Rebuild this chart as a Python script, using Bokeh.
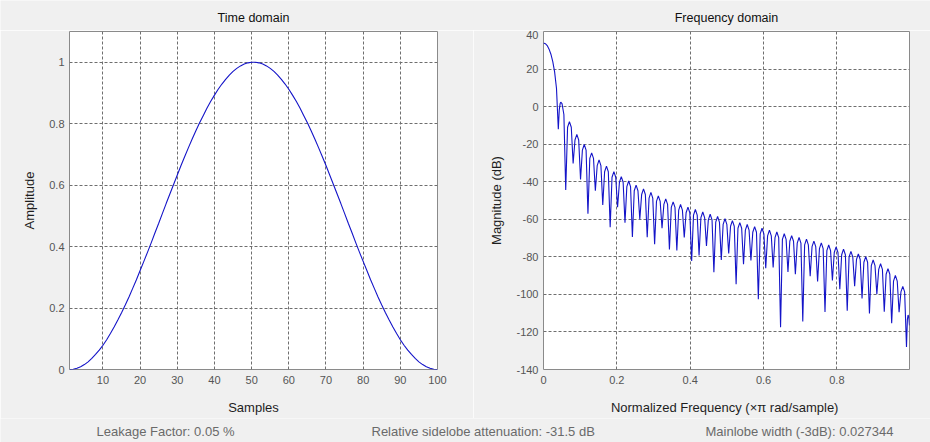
from bokeh.plotting import figure
from bokeh.layouts import column, row
from bokeh.models import Range1d, FixedTicker, CustomJSTickFormatter, Label
from bokeh.embed import file_html
from bokeh.resources import INLINE

# ---------------------------------------------------------------- data
# Time domain: 100-point Hann window
samples = list(range(1, 101))
amplitude = [
    0.000, 0.001, 0.004, 0.009, 0.016, 0.025, 0.036, 0.049, 0.063, 0.079,
    0.097, 0.117, 0.138, 0.161, 0.185, 0.210, 0.236, 0.264, 0.292, 0.322,
    0.352, 0.382, 0.413, 0.445, 0.476, 0.508, 0.540, 0.571, 0.602, 0.633,
    0.664, 0.693, 0.722, 0.750, 0.777, 0.803, 0.827, 0.851, 0.873, 0.893,
    0.912, 0.929, 0.944, 0.958, 0.970, 0.980, 0.988, 0.994, 0.998, 1.000,
    1.000, 0.998, 0.994, 0.988, 0.980, 0.970, 0.958, 0.944, 0.929, 0.912,
    0.893, 0.873, 0.851, 0.827, 0.803, 0.777, 0.750, 0.722, 0.693, 0.664,
    0.633, 0.602, 0.571, 0.540, 0.508, 0.476, 0.445, 0.413, 0.382, 0.352,
    0.322, 0.292, 0.264, 0.236, 0.210, 0.185, 0.161, 0.138, 0.117, 0.097,
    0.079, 0.063, 0.049, 0.036, 0.025, 0.016, 0.009, 0.004, 0.001, 0.000,
]

# Frequency domain: main lobe and first side lobe, point by point
head_freq = [0.0, 0.0051, 0.0101, 0.0152, 0.0202, 0.0253, 0.0303, 0.0354,
             0.0404, 0.0430, 0.0455, 0.0470, 0.0505, 0.0556]
head_db = [33.9, 33.5, 32.5, 30.6, 27.9, 24.0, 18.5, 9.8,
           -12.1, -1.7, 1.7, 2.4, 1.6, -4.2]

# Remaining side lobes (lobe 3 .. 48): dip at the start of each lobe, crest level
lobe_width = 0.0202
first_lobe = 3
null_db = [
    -44.4, -30.3, -38.8, -57.1, -44.8, -52.4, -64.3, -53.6, -61.9, -69.4,
    -59.9, -69.5, -73.3, -64.8, -76.1, -76.6, -69.7, -82.2, -79.3, -74.2,
    -88.2, -81.7, -78.2, -94.6, -84.0, -82.0, -102.6, -86.1, -85.7, -117.5,
    -88.1, -89.3, -114.4, -90.3, -93.1, -109.4, -92.6, -97.3, -108.7, -95.6,
    -102.2, -110.2, -99.9, -109.2, -115.4, -109.5, -128.0,
]
crest_db = [
    -8.0, -14.8, -20.2, -24.6, -28.4, -31.7, -34.6, -37.3, -39.6, -41.8,
    -43.8, -45.7, -47.5, -49.1, -50.7, -52.1, -53.5, -54.8, -56.1, -57.3,
    -58.5, -59.7, -60.7, -61.8, -62.8, -63.9, -64.8, -65.8, -66.8, -67.7,
    -68.7, -69.7, -70.6, -71.6, -72.6, -73.7, -74.7, -75.9, -77.1, -78.4,
    -79.9, -81.7, -83.7, -86.3, -89.9, -95.7,
]
# Half lobe running into the Nyquist edge
tail_freq = [0.9922, 0.9941, 0.9961, 0.9980]
tail_db = [-113.4, -111.0, -112.0, -116.5]

time_title = "Time domain"
freq_title = "Frequency domain"
leakage_text = "Leakage Factor: 0.05 %"
sidelobe_text = "Relative sidelobe attenuation: -31.5 dB"
mainlobe_text = "Mainlobe width (-3dB): 0.027344"

# ---------------------------------------------------------------- styling
FONT = "Liberation Sans"
BG = "#f0f0f0"
LINE = "#1414c8"
TICK_COLOR = "#555555"
LABEL_COLOR = "#1e1e1e"

# shape of a lobe crest: (fraction of lobe width, dB below crest)
CREST_SHAPE = [(0.25, -3.0), (0.5, 0.0), (0.75, -3.0)]

freq = list(head_freq)
mag = list(head_db)
for i, crest in enumerate(crest_db):
    k = first_lobe + i
    freq.append(k * lobe_width)
    mag.append(null_db[i])
    for frac, drop in CREST_SHAPE:
        freq.append((k + frac) * lobe_width)
        mag.append(crest + drop)
freq.append((first_lobe + len(crest_db)) * lobe_width)
mag.append(null_db[-1])
freq += tail_freq
mag += tail_db

fmt = CustomJSTickFormatter(code="return String(tick);")


def style(p, xticks, yticks, ylabel_standoff):
    p.background_fill_color = "white"
    p.border_fill_color = BG
    p.outline_line_color = "#8a8a8a"
    p.outline_line_width = 1
    p.xaxis.ticker = FixedTicker(ticks=xticks)
    p.yaxis.ticker = FixedTicker(ticks=yticks)
    for ax in (p.xaxis[0], p.yaxis[0]):
        ax.formatter = fmt
        ax.axis_line_color = None
        ax.major_tick_line_color = None
        ax.minor_tick_line_color = None
        ax.major_tick_in = 0
        ax.major_tick_out = 0
        ax.minor_tick_in = 0
        ax.minor_tick_out = 0
        ax.major_label_text_font = FONT
        ax.major_label_text_font_size = "11px"
        ax.major_label_text_color = TICK_COLOR
        ax.axis_label_text_font = FONT
        ax.axis_label_text_font_size = "13px"
        ax.axis_label_text_font_style = "normal"
        ax.axis_label_text_color = LABEL_COLOR
    p.xaxis.major_label_standoff = 6
    p.yaxis.major_label_standoff = 5
    p.xaxis.axis_label_standoff = 13
    p.yaxis.axis_label_standoff = ylabel_standoff
    p.grid.grid_line_color = "#6e6e6e"
    p.grid.grid_line_dash = "3 2"
    p.grid.grid_line_width = 1


def text_strip(height, items, size, color, align):
    """A bare full-width strip carrying free-standing text."""
    s = figure(width=930, height=height, output_backend="svg", toolbar_location=None,
               x_range=Range1d(0, 930), y_range=Range1d(0, height),
               x_axis_type=None, y_axis_type=None, min_border=0)
    s.background_fill_color = BG
    s.border_fill_color = BG
    s.outline_line_color = None
    s.grid.visible = False
    for xpos, ypos, txt in items:
        s.add_layout(Label(x=xpos, y=ypos, text=txt, text_font=FONT,
                           text_font_size=size, text_color=color,
                           text_align=align, text_baseline="middle"))
    return s


# ---------------------------------------------------------------- titles
header = text_strip(30, [(253, 13, time_title), (726, 13, freq_title)],
                    "12.5px", "#111111", "center")

# ---------------------------------------------------------------- time domain
p1 = figure(width=473, height=388, output_backend="svg", toolbar_location=None,
            x_range=Range1d(1, 100), y_range=Range1d(0, 1.1),
            x_axis_label="Samples", y_axis_label="Amplitude",
            min_border_left=69, min_border_right=36,
            min_border_top=1, min_border_bottom=49)
p1.line(samples, amplitude, line_color=LINE, line_width=1.1)
style(p1, list(range(10, 101, 10)), [0, 0.2, 0.4, 0.6, 0.8, 1], 9)

# ---------------------------------------------------------------- frequency domain
p2 = figure(width=457, height=388, output_backend="svg", toolbar_location=None,
            x_range=Range1d(0, 0.998), y_range=Range1d(-140, 40),
            x_axis_label="Normalized Frequency  (\u00d7\u03c0 rad/sample)",
            y_axis_label="Magnitude (dB)",
            min_border_left=70, min_border_right=21,
            min_border_top=1, min_border_bottom=49)
p2.line(freq, mag, line_color=LINE, line_width=1.1)
style(p2, [0, 0.2, 0.4, 0.6, 0.8], list(range(-140, 41, 20)), 9)

# ---------------------------------------------------------------- summary line
footer = text_strip(24, [(96, 11.3, leakage_text), (371, 11.3, sidelobe_text),
                         (705, 11.3, mainlobe_text)],
                    "13px", "#6a6a6a", "left")

layout = column(header, row(p1, p2), footer)
open("out.html", "w").write(file_html(layout, INLINE))
